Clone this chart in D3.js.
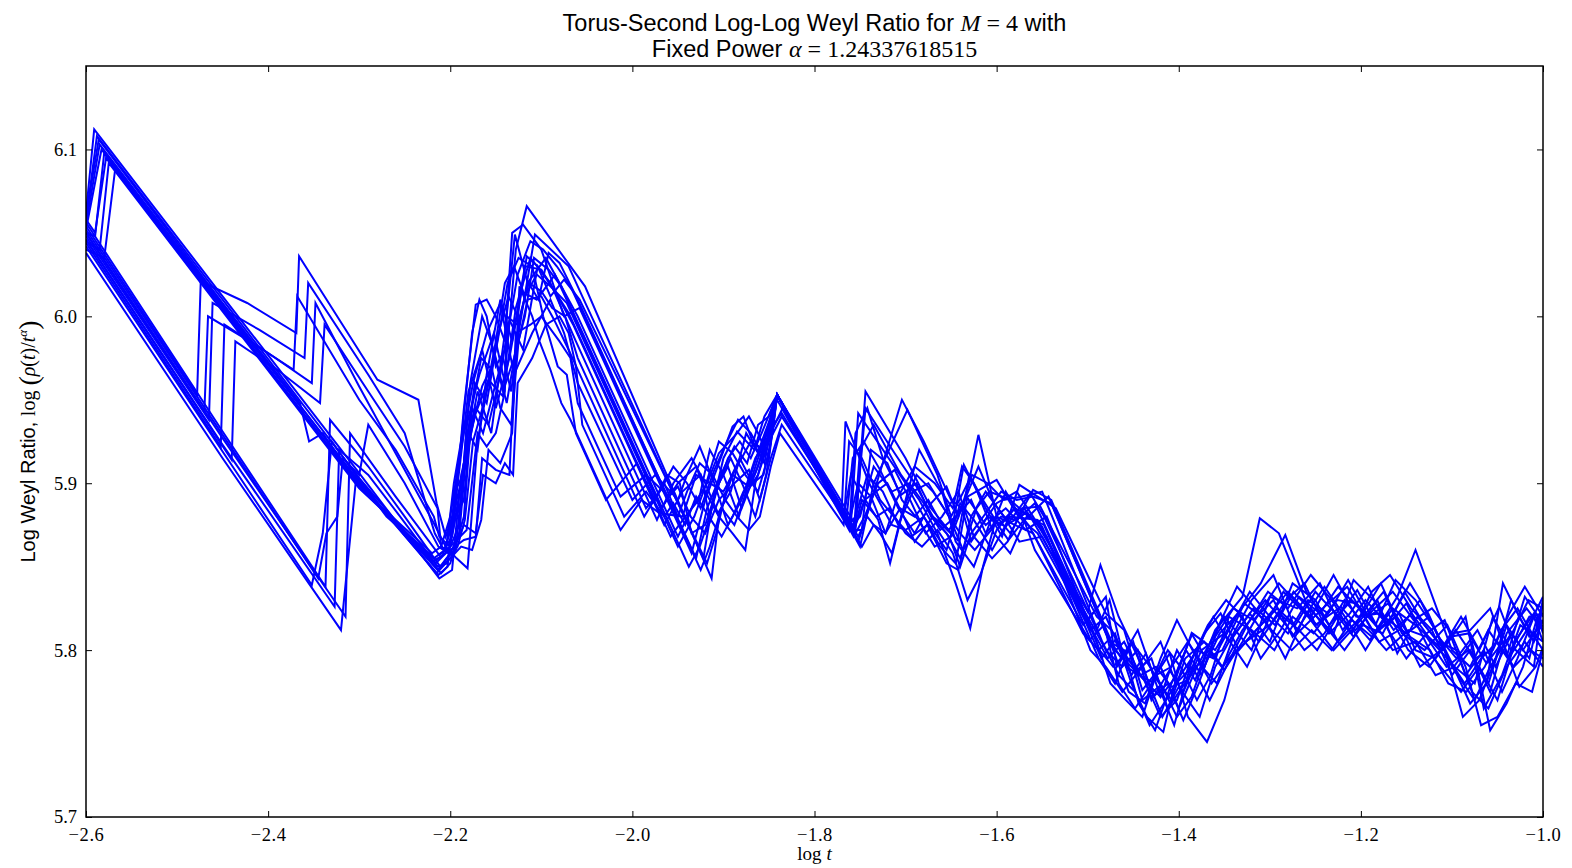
<!DOCTYPE html>
<html><head><meta charset="utf-8">
<script src="https://cdn.jsdelivr.net/npm/d3@7"></script>
<style>
html,body{margin:0;padding:0;background:#fff;}
svg{display:block;}
.sans{font-family:"Liberation Sans",Arial,sans-serif;}
.serif{font-family:"Liberation Serif","DejaVu Serif",serif;}
</style></head><body>
<svg id="chart" width="1572" height="868"></svg>
<script>
// ---- Data ----
const xTicks = [-2.6, -2.4, -2.2, -2.0, -1.8, -1.6, -1.4, -1.2, -1.0];
const yTicks = [5.7, 5.8, 5.9, 6.0, 6.1];
const xDomain = [-2.6, -1.0];
const yDomain = [5.7, 6.15];

const series01 = [[-2.600,6.062],[-2.591,6.112],[-2.450,6.012],[-2.300,5.906],[-2.212,5.843],
[-2.198,5.848],[-2.188,5.905],[-2.172,5.942],[-2.158,5.962],[-2.142,5.952],[-2.128,6.040],[-2.116,6.066],[-2.052,6.018],[-1.913,5.843],
[-1.905,5.880],[-1.890,5.905],[-1.872,5.898],[-1.856,5.925],[-1.841,5.953],
[-1.760,5.876],[-1.752,5.942],[-1.700,5.900],[-1.662,5.862],[-1.645,5.852],[-1.632,5.892],[-1.600,5.902],[-1.576,5.880],[-1.560,5.896],[-1.540,5.890],
[-1.470,5.800],[-1.452,5.790],[-1.420,5.772],[-1.402,5.800],[-1.382,5.782],[-1.360,5.812],[-1.330,5.832],[-1.311,5.879],[-1.290,5.870],[-1.250,5.815],[-1.222,5.826],[-1.190,5.806],[-1.160,5.832],[-1.140,5.860],[-1.100,5.800],[-1.080,5.790],[-1.060,5.812],[-1.040,5.796],[-1.020,5.832],[-1.000,5.816]];

const series02 = [[-2.600,6.058],[-2.588,6.108],[-2.450,6.010],[-2.300,5.903],[-2.210,5.846],
[-2.200,5.852],[-2.185,5.880],[-2.178,5.930],[-2.165,5.958],[-2.150,5.975],[-2.138,5.948],[-2.125,5.990],[-2.107,6.049],[-2.070,6.030],[-2.055,6.012],[-1.922,5.855],
[-1.910,5.895],[-1.895,5.910],[-1.880,5.885],[-1.862,5.910],[-1.850,5.935],[-1.841,5.953],
[-1.755,5.872],[-1.744,5.955],[-1.700,5.915],[-1.672,5.885],[-1.650,5.870],[-1.636,5.911],[-1.612,5.885],[-1.594,5.868],[-1.575,5.899],[-1.555,5.892],[-1.535,5.885],
[-1.480,5.822],[-1.460,5.812],[-1.440,5.776],[-1.420,5.790],[-1.400,5.765],[-1.380,5.790],[-1.350,5.820],[-1.320,5.800],[-1.300,5.832],[-1.270,5.825],[-1.245,5.840],[-1.220,5.812],[-1.195,5.830],[-1.170,5.815],[-1.150,5.828],[-1.120,5.795],[-1.090,5.775],[-1.070,5.790],[-1.050,5.770],[-1.030,5.806],[-1.010,5.822],[-1.000,5.812]];

const series03 = [[-2.600,6.055],[-2.585,6.103],[-2.450,6.007],[-2.300,5.900],[-2.214,5.848],
[-2.200,5.858],[-2.190,5.870],[-2.182,5.920],[-2.170,5.955],[-2.155,5.930],[-2.140,5.990],[-2.129,6.049],[-2.115,6.020],[-2.095,6.035],[-2.060,6.000],[-1.950,5.868],
[-1.935,5.885],[-1.918,5.900],[-1.905,5.918],[-1.885,5.930],[-1.872,5.940],[-1.862,5.930],[-1.850,5.915],[-1.841,5.953],
[-1.752,5.865],[-1.740,5.885],[-1.704,5.950],[-1.680,5.925],[-1.650,5.890],[-1.638,5.885],[-1.628,5.865],[-1.610,5.880],[-1.590,5.874],[-1.563,5.894],[-1.548,5.880],
[-1.490,5.812],[-1.476,5.830],[-1.458,5.790],[-1.430,5.781],[-1.410,5.798],[-1.390,5.760],[-1.369,5.745],[-1.350,5.770],[-1.335,5.800],[-1.310,5.815],[-1.280,5.835],[-1.255,5.820],[-1.230,5.845],[-1.205,5.820],[-1.180,5.822],[-1.150,5.810],[-1.125,5.820],[-1.100,5.790],[-1.075,5.770],[-1.058,5.790],[-1.035,5.810],[-1.015,5.795],[-1.000,5.830]];

const series04 = [[-2.600,6.050],[-2.590,6.048],[-2.580,6.098],[-2.450,6.005],[-2.300,5.898],[-2.216,5.852],
[-2.205,5.858],[-2.196,5.900],[-2.185,5.935],[-2.170,5.920],[-2.160,5.965],[-2.145,6.010],[-2.132,5.985],[-2.118,6.030],[-2.100,6.028],[-2.080,6.010],[-2.065,5.995],[-1.965,5.875],
[-1.945,5.895],[-1.925,5.905],[-1.915,5.880],[-1.900,5.915],[-1.885,5.931],[-1.866,5.920],[-1.855,5.940],[-1.841,5.953],
[-1.750,5.862],[-1.735,5.900],[-1.698,5.944],[-1.665,5.905],[-1.650,5.880],[-1.630,5.902],[-1.620,5.929],[-1.600,5.880],[-1.585,5.870],[-1.570,5.885],[-1.545,5.868],
[-1.497,5.800],[-1.480,5.790],[-1.462,5.775],[-1.440,5.790],[-1.418,5.760],[-1.400,5.778],[-1.377,5.760],[-1.360,5.790],[-1.340,5.810],[-1.320,5.830],[-1.296,5.845],[-1.270,5.810],[-1.240,5.826],[-1.215,5.838],[-1.185,5.810],[-1.165,5.825],[-1.140,5.815],[-1.110,5.800],[-1.085,5.820],[-1.065,5.765],[-1.045,5.785],[-1.025,5.815],[-1.000,5.805]];

const series05 = [[-2.600,6.045],[-2.585,6.040],[-2.575,6.092],[-2.450,6.003],[-2.300,5.897],[-2.218,5.855],
[-2.206,5.860],[-2.195,5.885],[-2.180,5.955],[-2.165,5.980],[-2.150,5.945],[-2.135,5.975],[-2.122,6.015],[-2.105,6.010],[-2.085,6.025],[-2.068,6.005],[-1.968,5.885],
[-1.950,5.900],[-1.930,5.910],[-1.920,5.895],[-1.905,5.880],[-1.890,5.870],[-1.876,5.860],[-1.865,5.900],[-1.850,5.925],[-1.836,5.940],
[-1.765,5.880],[-1.757,5.870],[-1.750,5.920],[-1.735,5.935],[-1.705,5.905],[-1.685,5.890],[-1.665,5.870],[-1.645,5.840],[-1.629,5.813],[-1.615,5.850],[-1.600,5.880],[-1.580,5.875],[-1.560,5.870],
[-1.505,5.810],[-1.488,5.800],[-1.470,5.810],[-1.452,5.780],[-1.435,5.760],[-1.417,5.751],[-1.400,5.790],[-1.385,5.810],[-1.360,5.800],[-1.338,5.820],[-1.310,5.840],[-1.283,5.869],[-1.260,5.835],[-1.235,5.815],[-1.210,5.830],[-1.190,5.820],[-1.165,5.800],[-1.140,5.805],[-1.118,5.785],[-1.097,5.790],[-1.075,5.780],[-1.055,5.820],[-1.035,5.800],[-1.015,5.820],[-1.000,5.822]];

const series06 = [[-2.600,6.040],[-2.580,6.035],[-2.568,6.088],[-2.450,6.004],[-2.300,5.898],[-2.220,5.858],
[-2.210,5.862],[-2.200,5.880],[-2.190,5.915],[-2.175,5.960],[-2.160,5.990],[-2.145,6.008],[-2.130,5.965],[-2.110,5.990],[-2.090,6.010],[-2.075,5.990],[-2.060,5.960],[-2.000,5.890],
[-1.975,5.905],[-1.950,5.890],[-1.940,5.905],[-1.926,5.922],[-1.910,5.900],[-1.895,5.875],[-1.880,5.890],[-1.865,5.915],[-1.850,5.928],[-1.835,5.945],
[-1.770,5.885],[-1.766,5.937],[-1.740,5.900],[-1.715,5.875],[-1.700,5.872],[-1.680,5.880],[-1.655,5.860],[-1.640,5.888],[-1.625,5.878],[-1.605,5.860],[-1.585,5.880],[-1.555,5.878],
[-1.500,5.818],[-1.480,5.832],[-1.468,5.790],[-1.450,5.805],[-1.430,5.770],[-1.410,5.788],[-1.395,5.775],[-1.375,5.800],[-1.350,5.810],[-1.325,5.790],[-1.300,5.820],[-1.285,5.835],[-1.258,5.820],[-1.230,5.800],[-1.205,5.815],[-1.175,5.835],[-1.155,5.810],[-1.130,5.800],[-1.105,5.815],[-1.085,5.790],[-1.068,5.755],[-1.050,5.760],[-1.030,5.780],[-1.012,5.775],[-1.000,5.800]];

const series07 = [[-2.600,6.050],[-2.450,5.927],[-2.315,5.820],[-2.310,5.930],[-2.260,5.892],[-2.212,5.857],
[-2.200,5.862],[-2.190,5.875],[-2.182,5.935],[-2.168,5.965],[-2.152,5.990],[-2.140,5.960],[-2.128,6.005],[-2.112,6.035],[-2.090,6.020],[-2.062,5.985],[-1.973,5.878],
[-1.955,5.900],[-1.935,5.915],[-1.920,5.900],[-1.906,5.882],[-1.892,5.895],[-1.875,5.930],[-1.862,5.918],[-1.848,5.935],[-1.841,5.953],
[-1.758,5.870],[-1.745,5.890],[-1.720,5.900],[-1.702,5.880],[-1.690,5.865],[-1.670,5.880],[-1.652,5.872],[-1.633,5.892],[-1.612,5.875],[-1.590,5.885],[-1.568,5.872],[-1.545,5.880],
[-1.487,5.800],[-1.472,5.790],[-1.455,5.800],[-1.440,5.770],[-1.422,5.778],[-1.405,5.755],[-1.385,5.795],[-1.362,5.820],[-1.345,5.805],[-1.322,5.822],[-1.300,5.805],[-1.275,5.840],[-1.250,5.830],[-1.225,5.805],[-1.200,5.820],[-1.178,5.840],[-1.160,5.818],[-1.135,5.790],[-1.112,5.800],[-1.090,5.820],[-1.070,5.800],[-1.048,5.826],[-1.030,5.800],[-1.010,5.790],[-1.000,5.830]];

const series08 = [[-2.600,6.046],[-2.450,5.923],[-2.327,5.826],[-2.322,5.920],[-2.290,5.905],[-2.255,5.880],[-2.214,5.850],
[-2.203,5.852],[-2.193,5.890],[-2.183,5.912],[-2.172,5.945],[-2.158,5.935],[-2.145,5.965],[-2.135,5.998],[-2.120,5.980],[-2.104,6.030],[-2.085,6.015],[-2.070,6.002],[-1.958,5.868],
[-1.942,5.880],[-1.927,5.890],[-1.915,5.920],[-1.900,5.905],[-1.883,5.880],[-1.870,5.905],[-1.858,5.925],[-1.841,5.950],
[-1.762,5.872],[-1.755,5.930],[-1.742,5.945],[-1.725,5.915],[-1.705,5.893],[-1.688,5.900],[-1.672,5.880],[-1.655,5.870],[-1.640,5.855],[-1.622,5.885],[-1.608,5.895],[-1.585,5.890],[-1.565,5.880],[-1.543,5.892],
[-1.480,5.810],[-1.463,5.795],[-1.445,5.812],[-1.428,5.785],[-1.408,5.770],[-1.393,5.795],[-1.372,5.805],[-1.352,5.790],[-1.330,5.812],[-1.305,5.830],[-1.282,5.815],[-1.262,5.800],[-1.240,5.810],[-1.218,5.830],[-1.196,5.815],[-1.172,5.800],[-1.148,5.812],[-1.128,5.808],[-1.106,5.790],[-1.082,5.800],[-1.060,5.780],[-1.040,5.815],[-1.022,5.800],[-1.000,5.818]];

const series09 = [[-2.600,6.042],[-2.450,5.919],[-2.352,5.839],[-2.340,5.870],[-2.330,5.925],[-2.300,5.902],[-2.270,5.880],[-2.216,5.854],
[-2.200,5.860],[-2.185,5.866],[-2.172,5.868],[-2.165,5.915],[-2.150,5.908],[-2.135,5.905],[-2.128,5.990],[-2.112,5.995],[-2.100,6.000],[-2.080,5.985],[-2.068,5.975],[-2.060,5.948],[-2.013,5.892],
[-1.985,5.905],[-1.960,5.892],[-1.950,5.898],[-1.936,5.880],[-1.920,5.870],[-1.905,5.890],[-1.888,5.900],[-1.872,5.908],[-1.860,5.890],[-1.848,5.915],[-1.836,5.935],
[-1.768,5.880],[-1.760,5.905],[-1.750,5.895],[-1.730,5.878],[-1.717,5.852],[-1.700,5.890],[-1.685,5.920],[-1.660,5.895],[-1.645,5.865],[-1.625,5.850],[-1.605,5.880],[-1.587,5.866],[-1.570,5.878],[-1.558,5.860],
[-1.498,5.806],[-1.482,5.815],[-1.466,5.780],[-1.448,5.765],[-1.430,5.780],[-1.412,5.800],[-1.398,5.790],[-1.380,5.770],[-1.365,5.785],[-1.345,5.820],[-1.320,5.812],[-1.295,5.800],[-1.275,5.820],[-1.252,5.810],[-1.232,5.825],[-1.208,5.808],[-1.182,5.830],[-1.160,5.798],[-1.138,5.820],[-1.115,5.805],[-1.095,5.800],[-1.078,5.775],[-1.060,5.765],[-1.040,5.790],[-1.020,5.805],[-1.000,5.790]];

const series10 = [[-2.600,6.038],[-2.450,5.915],[-2.320,5.812],[-2.303,5.905],[-2.265,5.878],[-2.213,5.845],
[-2.203,5.850],[-2.195,5.895],[-2.186,5.905],[-2.178,5.960],[-2.165,6.000],[-2.155,5.985],[-2.142,5.955],[-2.130,5.975],[-2.118,6.000],[-2.108,6.035],[-2.092,6.028],[-2.078,6.018],[-1.938,5.850],
[-1.926,5.862],[-1.918,5.875],[-1.905,5.900],[-1.892,5.915],[-1.878,5.898],[-1.865,5.880],[-1.853,5.905],[-1.841,5.953],
[-1.748,5.862],[-1.735,5.875],[-1.722,5.870],[-1.710,5.890],[-1.690,5.910],[-1.668,5.900],[-1.648,5.885],[-1.638,5.910],[-1.625,5.900],[-1.603,5.870],[-1.585,5.858],[-1.567,5.880],[-1.548,5.875],
[-1.485,5.795],[-1.470,5.806],[-1.452,5.785],[-1.436,5.798],[-1.420,5.772],[-1.402,5.785],[-1.386,5.810],[-1.370,5.795],[-1.352,5.800],[-1.328,5.828],[-1.305,5.818],[-1.283,5.795],[-1.262,5.820],[-1.240,5.838],[-1.215,5.818],[-1.195,5.800],[-1.170,5.822],[-1.148,5.800],[-1.125,5.790],[-1.102,5.808],[-1.082,5.810],[-1.062,5.792],[-1.044,5.805],[-1.026,5.778],[-1.008,5.790],[-1.000,5.802]];

const series11 = [[-2.600,6.054],[-2.478,5.953],[-2.474,6.021],[-2.423,6.008],[-2.369,5.990],[-2.366,6.036],[-2.280,5.962],[-2.235,5.950],[-2.215,5.888],
[-2.205,5.868],[-2.195,5.885],[-2.185,5.945],[-2.172,6.007],[-2.160,6.010],[-2.150,6.000],[-2.140,5.985],[-2.132,6.050],[-2.120,6.055],[-2.100,6.040],[-2.075,6.000],[-2.058,6.005],[-1.935,5.858],
[-1.920,5.890],[-1.905,5.912],[-1.890,5.934],[-1.878,5.940],[-1.868,5.925],[-1.855,5.912],[-1.841,5.953],
[-1.752,5.868],[-1.742,5.880],[-1.728,5.870],[-1.715,5.858],[-1.704,5.882],[-1.688,5.905],[-1.670,5.895],[-1.652,5.880],[-1.637,5.860],[-1.620,5.872],[-1.600,5.888],[-1.578,5.895],[-1.560,5.880],
[-1.500,5.823],[-1.486,5.851],[-1.466,5.820],[-1.440,5.790],[-1.420,5.805],[-1.403,5.780],[-1.385,5.790],[-1.366,5.770],[-1.348,5.790],[-1.325,5.815],[-1.302,5.835],[-1.280,5.825],[-1.255,5.845],[-1.232,5.830],[-1.210,5.810],[-1.188,5.835],[-1.168,5.845],[-1.145,5.825],[-1.122,5.812],[-1.100,5.785],[-1.080,5.800],[-1.058,5.775],[-1.040,5.810],[-1.018,5.825],[-1.000,5.812]];

const series12 = [[-2.600,6.048],[-2.465,5.938],[-2.461,6.008],[-2.410,5.992],[-2.360,5.975],[-2.356,6.020],[-2.290,5.965],[-2.250,5.930],[-2.217,5.870],
[-2.207,5.860],[-2.198,5.868],[-2.188,5.900],[-2.178,5.940],[-2.166,5.975],[-2.154,5.968],[-2.145,5.945],[-2.133,5.935],[-2.125,5.985],[-2.115,6.010],[-2.100,6.012],[-2.086,5.998],[-2.070,5.980],[-1.987,5.880],
[-1.965,5.900],[-1.950,5.880],[-1.940,5.895],[-1.926,5.912],[-1.912,5.905],[-1.898,5.890],[-1.885,5.880],[-1.872,5.872],[-1.860,5.880],[-1.848,5.910],[-1.838,5.930],
[-1.768,5.875],[-1.762,5.925],[-1.748,5.915],[-1.728,5.890],[-1.710,5.878],[-1.694,5.868],[-1.676,5.875],[-1.655,5.852],[-1.642,5.848],[-1.628,5.880],[-1.612,5.895],[-1.592,5.880],[-1.575,5.865],[-1.550,5.868],
[-1.492,5.808],[-1.475,5.780],[-1.458,5.770],[-1.440,5.760],[-1.425,5.785],[-1.408,5.790],[-1.390,5.805],[-1.372,5.790],[-1.355,5.810],[-1.335,5.822],[-1.312,5.805],[-1.290,5.822],[-1.268,5.812],[-1.248,5.800],[-1.226,5.820],[-1.204,5.836],[-1.180,5.812],[-1.158,5.822],[-1.140,5.800],[-1.118,5.795],[-1.096,5.812],[-1.075,5.795],[-1.055,5.800],[-1.037,5.822],[-1.020,5.838],[-1.000,5.820]];

const series13 = [[-2.600,6.044],[-2.452,5.922],[-2.448,5.995],[-2.400,5.978],[-2.352,5.960],[-2.348,6.008],[-2.300,5.958],[-2.260,5.918],[-2.218,5.876],
[-2.205,5.862],[-2.193,5.855],[-2.181,5.849],[-2.170,5.925],[-2.160,5.955],[-2.148,5.985],[-2.137,6.020],[-2.125,6.035],[-2.110,6.030],[-2.098,6.000],[-2.082,5.970],[-2.072,5.965],[-2.062,5.930],[-2.029,5.890],
[-1.995,5.912],[-1.975,5.890],[-1.962,5.905],[-1.948,5.900],[-1.935,5.870],[-1.920,5.875],[-1.908,5.895],[-1.895,5.915],[-1.882,5.925],[-1.870,5.915],[-1.858,5.930],[-1.841,5.953],
[-1.755,5.875],[-1.748,5.890],[-1.732,5.880],[-1.718,5.885],[-1.700,5.870],[-1.682,5.862],[-1.665,5.872],[-1.648,5.858],[-1.632,5.830],[-1.618,5.845],[-1.600,5.872],[-1.580,5.885],[-1.565,5.875],
[-1.505,5.815],[-1.490,5.825],[-1.472,5.800],[-1.455,5.775],[-1.437,5.768],[-1.420,5.795],[-1.402,5.818],[-1.385,5.800],[-1.364,5.780],[-1.345,5.795],[-1.324,5.806],[-1.300,5.815],[-1.282,5.830],[-1.262,5.840],[-1.240,5.815],[-1.218,5.800],[-1.198,5.815],[-1.176,5.810],[-1.152,5.835],[-1.130,5.815],[-1.108,5.800],[-1.088,5.760],[-1.070,5.770],[-1.052,5.795],[-1.035,5.830],[-1.015,5.808],[-1.000,5.815]];

const series14 = [[-2.600,6.046],[-2.440,5.914],[-2.436,5.985],[-2.390,5.968],[-2.343,5.948],[-2.338,5.995],[-2.290,5.955],[-2.250,5.922],[-2.214,5.885],[-2.210,5.862],
[-2.198,5.858],[-2.185,5.875],[-2.172,5.870],[-2.164,5.905],[-2.150,5.900],[-2.140,5.912],[-2.131,5.905],[-2.126,5.960],[-2.110,5.975],[-2.095,5.995],[-2.080,6.000],[-2.070,5.990],[-2.062,5.970],[-2.055,5.935],[-2.009,5.880],
[-1.985,5.895],[-1.965,5.880],[-1.955,5.888],[-1.942,5.875],[-1.930,5.892],[-1.916,5.880],[-1.902,5.868],[-1.890,5.880],[-1.878,5.895],[-1.866,5.905],[-1.852,5.925],[-1.841,5.953],
[-1.762,5.876],[-1.752,5.900],[-1.738,5.892],[-1.722,5.870],[-1.706,5.885],[-1.690,5.880],[-1.675,5.890],[-1.660,5.875],[-1.643,5.866],[-1.630,5.905],[-1.615,5.890],[-1.598,5.875],[-1.580,5.885],[-1.563,5.880],
[-1.495,5.815],[-1.480,5.800],[-1.462,5.790],[-1.445,5.800],[-1.428,5.772],[-1.412,5.780],[-1.395,5.758],[-1.378,5.780],[-1.360,5.808],[-1.340,5.825],[-1.318,5.818],[-1.296,5.830],[-1.275,5.808],[-1.255,5.825],[-1.235,5.810],[-1.212,5.822],[-1.192,5.838],[-1.170,5.812],[-1.150,5.795],[-1.128,5.810],[-1.108,5.818],[-1.085,5.785],[-1.065,5.800],[-1.045,5.775],[-1.028,5.795],[-1.010,5.820],[-1.000,5.805]];

const series15 = [[-2.600,6.052],[-2.583,6.100],[-2.450,6.006],[-2.350,5.936],[-2.300,5.901],[-2.215,5.846],
[-2.200,5.855],[-2.188,5.862],[-2.176,5.860],[-2.166,5.878],[-2.158,5.920],[-2.145,5.912],[-2.132,5.930],[-2.124,6.018],[-2.110,6.000],[-2.102,5.985],[-2.090,5.968],[-2.078,5.948],[-2.068,5.938],[-2.013,5.872],
[-1.990,5.890],[-1.970,5.882],[-1.945,5.880],[-1.930,5.905],[-1.915,5.900],[-1.900,5.895],[-1.885,5.910],[-1.870,5.925],[-1.855,5.920],[-1.841,5.953],
[-1.757,5.868],[-1.745,5.880],[-1.730,5.900],[-1.712,5.908],[-1.695,5.890],[-1.678,5.870],[-1.660,5.880],[-1.642,5.895],[-1.625,5.868],[-1.605,5.855],[-1.588,5.865],[-1.572,5.885],[-1.552,5.886],
[-1.490,5.820],[-1.474,5.812],[-1.456,5.795],[-1.438,5.782],[-1.420,5.760],[-1.402,5.770],[-1.388,5.792],[-1.368,5.815],[-1.348,5.830],[-1.330,5.820],[-1.310,5.795],[-1.288,5.812],[-1.268,5.832],[-1.245,5.822],[-1.225,5.838],[-1.202,5.825],[-1.180,5.805],[-1.158,5.812],[-1.135,5.830],[-1.115,5.808],[-1.095,5.795],[-1.072,5.812],[-1.052,5.790],[-1.034,5.810],[-1.016,5.830],[-1.000,5.825]];

const series16 = [[-2.600,6.056],[-2.595,6.052],[-2.450,5.931],[-2.337,5.838],[-2.332,5.938],[-2.290,5.910],[-2.250,5.880],[-2.211,5.850],
[-2.200,5.855],[-2.192,5.862],[-2.184,5.878],[-2.175,5.925],[-2.162,5.950],[-2.150,5.985],[-2.140,6.020],[-2.130,6.030],[-2.118,6.012],[-2.105,6.025],[-2.090,6.018],[-2.072,6.008],[-1.950,5.862],
[-1.932,5.880],[-1.920,5.898],[-1.905,5.925],[-1.890,5.918],[-1.876,5.905],[-1.862,5.895],[-1.850,5.918],[-1.841,5.953],
[-1.760,5.874],[-1.750,5.880],[-1.735,5.910],[-1.715,5.895],[-1.696,5.900],[-1.680,5.888],[-1.662,5.872],[-1.645,5.880],[-1.628,5.890],[-1.612,5.870],[-1.595,5.880],[-1.578,5.878],[-1.558,5.888],
[-1.493,5.810],[-1.478,5.795],[-1.460,5.805],[-1.442,5.785],[-1.425,5.790],[-1.408,5.778],[-1.390,5.782],[-1.372,5.810],[-1.354,5.822],[-1.334,5.800],[-1.315,5.812],[-1.292,5.825],[-1.272,5.815],[-1.250,5.835],[-1.228,5.822],[-1.206,5.812],[-1.185,5.825],[-1.165,5.835],[-1.142,5.818],[-1.122,5.825],[-1.100,5.810],[-1.080,5.812],[-1.058,5.825],[-1.038,5.795],[-1.020,5.810],[-1.000,5.832]];

const series17 = [[-2.600,6.058],[-2.590,6.050],[-2.578,6.095],[-2.450,6.004],[-2.360,5.941],[-2.300,5.899],[-2.219,5.853],
[-2.208,5.857],[-2.198,5.875],[-2.188,5.925],[-2.176,5.990],[-2.168,6.010],[-2.160,6.000],[-2.150,5.970],[-2.140,5.980],[-2.126,6.025],[-2.112,6.045],[-2.098,6.040],[-2.083,6.030],[-2.068,6.018],[-1.930,5.855],
[-1.918,5.885],[-1.903,5.905],[-1.888,5.922],[-1.874,5.912],[-1.862,5.935],[-1.850,5.940],[-1.841,5.953],
[-1.765,5.878],[-1.758,5.915],[-1.746,5.925],[-1.728,5.908],[-1.708,5.885],[-1.690,5.870],[-1.672,5.888],[-1.655,5.898],[-1.642,5.880],[-1.627,5.905],[-1.610,5.900],[-1.592,5.890],[-1.572,5.892],[-1.550,5.895],
[-1.484,5.805],[-1.466,5.785],[-1.448,5.775],[-1.432,5.755],[-1.414,5.770],[-1.398,5.785],[-1.380,5.800],[-1.362,5.795],[-1.342,5.815],[-1.322,5.835],[-1.303,5.822],[-1.280,5.810],[-1.258,5.830],[-1.236,5.822],[-1.214,5.842],[-1.192,5.820],[-1.170,5.828],[-1.146,5.808],[-1.124,5.800],[-1.104,5.780],[-1.084,5.775],[-1.064,5.790],[-1.046,5.812],[-1.028,5.825],[-1.012,5.810],[-1.000,5.800]];

const series18 = [[-2.600,6.052],[-2.450,5.929],[-2.345,5.843],[-2.336,5.870],[-2.324,5.880],[-2.318,5.915],[-2.300,5.905],[-2.290,5.935],[-2.250,5.900],[-2.213,5.862],
[-2.202,5.858],[-2.194,5.880],[-2.185,5.890],[-2.176,5.945],[-2.164,5.930],[-2.150,5.960],[-2.142,5.975],[-2.133,5.955],[-2.124,5.998],[-2.114,6.020],[-2.103,6.010],[-2.092,6.038],[-2.080,6.032],[-2.060,6.010],[-1.925,5.848],
[-1.915,5.862],[-1.902,5.885],[-1.888,5.875],[-1.874,5.895],[-1.862,5.905],[-1.850,5.930],[-1.841,5.953],
[-1.758,5.872],[-1.748,5.872],[-1.738,5.920],[-1.720,5.912],[-1.704,5.890],[-1.686,5.878],[-1.668,5.862],[-1.650,5.868],[-1.635,5.890],[-1.620,5.910],[-1.603,5.888],[-1.586,5.876],[-1.568,5.882],[-1.550,5.874],
[-1.488,5.795],[-1.470,5.780],[-1.452,5.805],[-1.434,5.792],[-1.418,5.778],[-1.402,5.760],[-1.386,5.772],[-1.368,5.800],[-1.350,5.788],[-1.330,5.805],[-1.312,5.822],[-1.290,5.840],[-1.270,5.828],[-1.248,5.815],[-1.226,5.830],[-1.205,5.828],[-1.184,5.815],[-1.162,5.842],[-1.140,5.830],[-1.118,5.812],[-1.098,5.790],[-1.078,5.805],[-1.058,5.752],[-1.040,5.768],[-1.022,5.790],[-1.006,5.820],[-1.000,5.810]];

const series19 = [[-2.600,6.050],[-2.470,5.943],[-2.466,6.000],[-2.420,5.985],[-2.372,5.968],[-2.368,6.012],[-2.300,5.950],[-2.260,5.920],[-2.218,5.880],[-2.212,5.868],
[-2.200,5.862],[-2.182,5.872],[-2.170,5.930],[-2.160,5.922],[-2.150,5.930],[-2.140,5.955],[-2.138,6.000],[-2.126,5.995],[-2.114,6.020],[-2.100,6.015],[-2.088,6.005],[-2.074,6.000],[-2.060,5.975],[-1.985,5.885],
[-1.970,5.895],[-1.955,5.910],[-1.940,5.900],[-1.925,5.885],[-1.910,5.908],[-1.896,5.925],[-1.884,5.938],[-1.870,5.930],[-1.858,5.918],[-1.845,5.935],[-1.836,5.942],
[-1.762,5.875],[-1.755,5.880],[-1.742,5.905],[-1.725,5.895],[-1.708,5.875],[-1.692,5.895],[-1.675,5.900],[-1.658,5.885],[-1.640,5.870],[-1.624,5.860],[-1.606,5.872],[-1.590,5.895],[-1.572,5.878],[-1.555,5.870],
[-1.497,5.812],[-1.480,5.820],[-1.464,5.800],[-1.446,5.788],[-1.430,5.795],[-1.412,5.765],[-1.396,5.778],[-1.378,5.792],[-1.358,5.780],[-1.340,5.808],[-1.318,5.825],[-1.298,5.812],[-1.276,5.800],[-1.254,5.812],[-1.232,5.800],[-1.210,5.818],[-1.188,5.808],[-1.166,5.820],[-1.146,5.840],[-1.126,5.822],[-1.104,5.795],[-1.086,5.780],[-1.068,5.795],[-1.050,5.805],[-1.032,5.790],[-1.014,5.800],[-1.000,5.795]];

const series20 = [[-2.600,6.060],[-2.586,6.106],[-2.450,6.008],[-2.365,5.948],[-2.355,5.925],[-2.340,5.930],[-2.328,5.920],[-2.300,5.900],[-2.213,5.848],
[-2.204,5.855],[-2.194,5.860],[-2.185,5.912],[-2.173,5.960],[-2.160,5.948],[-2.147,5.990],[-2.136,6.012],[-2.126,6.000],[-2.116,6.036],[-2.104,6.030],[-2.090,6.012],[-2.075,6.022],[-2.058,6.010],[-1.918,5.852],
[-1.908,5.870],[-1.895,5.900],[-1.882,5.915],[-1.868,5.900],[-1.856,5.905],[-1.846,5.930],[-1.841,5.953],
[-1.756,5.870],[-1.744,5.945],[-1.712,5.918],[-1.690,5.900],[-1.670,5.880],[-1.652,5.868],[-1.640,5.850],[-1.628,5.870],[-1.612,5.882],[-1.595,5.895],[-1.578,5.890],[-1.560,5.892],[-1.540,5.888],
[-1.476,5.805],[-1.460,5.800],[-1.444,5.768],[-1.426,5.752],[-1.408,5.780],[-1.392,5.800],[-1.375,5.785],[-1.356,5.815],[-1.336,5.838],[-1.316,5.825],[-1.294,5.815],[-1.274,5.835],[-1.252,5.822],[-1.230,5.810],[-1.208,5.842],[-1.186,5.830],[-1.164,5.812],[-1.144,5.822],[-1.122,5.805],[-1.100,5.792],[-1.080,5.768],[-1.062,5.780],[-1.044,5.840],[-1.026,5.820],[-1.010,5.805],[-1.000,5.818]];

const allSeries = [series01, series02, series03, series04, series05, series06, series07, series08,
                   series09, series10, series11, series12, series13, series14, series15, series16,
                   series17, series18, series19, series20];

// ---- Layout ----
const W = 1572, H = 868;
const m = {left: 86, right: W - 1543, top: 66, bottom: H - 817};
const pw = W - m.left - m.right, ph = H - m.top - m.bottom;

const svg = d3.select("#chart");
const x = d3.scaleLinear().domain(xDomain).range([m.left, m.left + pw]);
const y = d3.scaleLinear().domain(yDomain).range([m.top + ph, m.top]);

const clip = svg.append("defs").append("clipPath").attr("id", "plotclip");
clip.append("rect").attr("x", m.left).attr("y", m.top).attr("width", pw).attr("height", ph);

const line = d3.line().x(d => x(d[0])).y(d => y(d[1]));
svg.append("g").attr("clip-path", "url(#plotclip)")
  .selectAll("path").data(allSeries).join("path")
  .attr("d", line)
  .attr("fill", "none")
  .attr("stroke", "#0000ff")
  .attr("stroke-width", 2)
  .attr("stroke-linejoin", "miter");

const fmt = v => d3.format(".1f")(v).replace("-", "\u2212");
const tickLen = 6;

const xb = svg.append("g").attr("transform", `translate(0,${m.top + ph})`)
  .call(d3.axisBottom(x).tickValues(xTicks).tickSizeInner(-tickLen).tickSizeOuter(0).tickPadding(11).tickFormat(fmt));
const xt = svg.append("g").attr("transform", `translate(0,${m.top})`)
  .call(d3.axisTop(x).tickValues(xTicks).tickSizeInner(-tickLen).tickSizeOuter(0).tickFormat(""));
const yl = svg.append("g").attr("transform", `translate(${m.left},0)`)
  .call(d3.axisLeft(y).tickValues(yTicks).tickSizeInner(-tickLen).tickSizeOuter(0).tickPadding(9).tickFormat(fmt));
const yr = svg.append("g").attr("transform", `translate(${m.left + pw},0)`)
  .call(d3.axisRight(y).tickValues(yTicks).tickSizeInner(-tickLen).tickSizeOuter(0).tickFormat(""));

[xb, xt, yl, yr].forEach(g => {
  g.select(".domain").remove();
  g.selectAll(".tick line").attr("stroke", "#000").attr("stroke-width", 1);
  g.selectAll(".tick text").attr("fill", "#000")
    .style("font-family", '"Liberation Serif","DejaVu Serif",serif').style("font-size", "18.5px");
});
xb.selectAll(".tick text").style("letter-spacing", "0.6px");

svg.append("rect").attr("x", m.left).attr("y", m.top).attr("width", pw).attr("height", ph)
  .attr("fill", "none").attr("stroke", "#000").attr("stroke-width", 1.5);

// title
const cx = m.left + pw / 2;
const t1 = svg.append("text").attr("x", cx).attr("y", 31).attr("text-anchor", "middle")
  .attr("class", "sans").style("font-size", "23.5px").attr("fill", "#000");
t1.append("tspan").text("Torus-Second Log-Log Weyl Ratio for ");
t1.append("tspan").attr("class", "serif").style("font-style", "italic").style("font-size", "24px").text("M");
t1.append("tspan").attr("class", "serif").style("font-size", "24px").text(" = 4");
t1.append("tspan").text(" with");
const t2 = svg.append("text").attr("x", cx).attr("y", 57).attr("text-anchor", "middle")
  .attr("class", "sans").style("font-size", "23.5px").attr("fill", "#000");
t2.append("tspan").text("Fixed Power ");
t2.append("tspan").attr("class", "serif").style("font-style", "italic").style("font-size", "24px").text("\u03b1");
t2.append("tspan").attr("class", "serif").style("font-size", "24px").text(" = 1.24337618515");

// x label
const xlab = svg.append("text").attr("x", cx).attr("y", 860).attr("text-anchor", "middle")
  .attr("class", "serif").style("font-size", "19px").attr("fill", "#000");
xlab.append("tspan").text("log ");
xlab.append("tspan").style("font-style", "italic").text("t");

// y label
const yc = m.top + ph / 2;
const ylab = svg.append("text").attr("transform", `translate(35,${yc}) rotate(-90)`)
  .attr("text-anchor", "middle").attr("class", "sans").style("font-size", "20px").attr("fill", "#000");
ylab.append("tspan").text("Log Weyl Ratio, ");
ylab.append("tspan").attr("class", "serif").text("log ");
ylab.append("tspan").attr("class", "serif").style("font-size", "28px").attr("dy", "3").text("(");
ylab.append("tspan").attr("class", "serif").style("font-style", "italic").attr("dy", "-3").text("\u03c1");
ylab.append("tspan").attr("class", "serif").text("(");
ylab.append("tspan").attr("class", "serif").style("font-style", "italic").text("t");
ylab.append("tspan").attr("class", "serif").text(")/");
ylab.append("tspan").attr("class", "serif").style("font-style", "italic").text("t");
ylab.append("tspan").attr("class", "serif").style("font-style", "italic").style("font-size", "13px").attr("dy", "-8").text("\u03b1");
ylab.append("tspan").attr("class", "serif").style("font-size", "28px").attr("dy", "11").text(")");
</script>
</body></html>
